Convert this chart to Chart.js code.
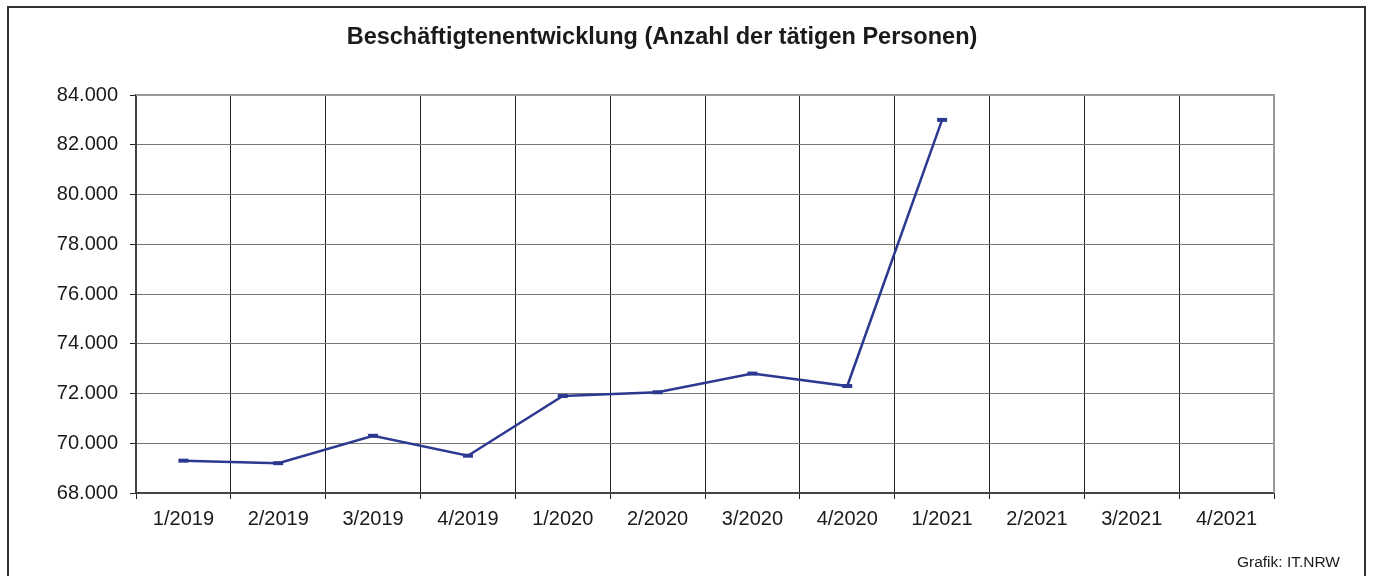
<!DOCTYPE html>
<html><head><meta charset="utf-8">
<script src="https://cdn.jsdelivr.net/npm/chart.js@4"></script>
<style>html,body{margin:0;padding:0;background:#fff}#wrap{width:1373px;height:576px;position:relative}</style>
</head><body><div id="wrap"><canvas id="c" width="1373" height="576"></canvas></div>
<script>
const categories = ['1/2019','2/2019','3/2019','4/2019','1/2020','2/2020','3/2020','4/2020','1/2021','2/2021','3/2021','4/2021'];
const beschaeftigte = [69300, 69200, 70300, 69500, 71900, 72050, 72800, 72300, 83000, null, null, null];
const yMin = 68000, yMax = 84000, yStep = 2000;
const titleText = 'Beschäftigtenentwicklung (Anzahl der tätigen Personen)';
const sourceText = 'Grafik: IT.NRW';

const frame = {
  id: 'frame',
  beforeDraw(chart) {
    const ctx = chart.ctx;
    ctx.save();
    ctx.fillStyle = '#fff';
    ctx.fillRect(0, 0, chart.width, chart.height);
    ctx.strokeStyle = '#333';
    ctx.lineWidth = 2;
    ctx.strokeRect(8, 7, 1357, 600);
    ctx.fillStyle = '#1a1a1a';
    ctx.font = 'bold 23.5px "Liberation Sans", Arial, sans-serif';
    ctx.textAlign = 'center';
    ctx.textBaseline = 'middle';
    ctx.fillText(titleText, 662, 38);
    ctx.font = '15.5px "Liberation Sans", Arial, sans-serif';
    ctx.textAlign = 'right';
    ctx.fillText(sourceText, 1340, 563);
    ctx.restore();
  },
  beforeDatasetsDraw(chart) {
    const a = chart.chartArea, ctx = chart.ctx;
    ctx.save();
    ctx.strokeStyle = '#999';
    ctx.lineWidth = 2;
    ctx.beginPath();
    ctx.moveTo(a.left, a.top);
    ctx.lineTo(a.right, a.top);
    ctx.lineTo(a.right, a.bottom);
    ctx.stroke();
    ctx.restore();
  }
};

new Chart(document.getElementById('c'), {
  type: 'line',
  data: {
    labels: categories,
    datasets: [{
      data: beschaeftigte,
      borderColor: '#2b3990',
      backgroundColor: '#2b3990',
      borderWidth: 2.5,
      pointStyle: 'line',
      pointRadius: 5,
      pointBorderWidth: 4,
      pointBorderColor: '#2b3990',
      tension: 0,
      spanGaps: false
    }]
  },
  options: {
    responsive: false,
    animation: false,
    devicePixelRatio: 1,
    layout: { padding: { left: 0, top: 95, right: 99, bottom: 0 } },
    plugins: { legend: { display: false }, tooltip: { enabled: false }, title: { display: false } },
    scales: {
      x: {
        offset: true,
        grid: { offset: true, color: '#222', lineWidth: 1, tickLength: 6, tickColor: '#222' },
        border: { color: '#444', width: 2 },
        ticks: { color: '#1a1a1a', padding: 8, maxRotation: 0, autoSkip: false,
          font: { family: '"Liberation Sans", Arial, sans-serif', size: 20 } },
        afterFit(s) { s.height = 83; }
      },
      y: {
        min: yMin, max: yMax,
        grid: { color: '#777', lineWidth: 1, borderDash: [1, 1], tickLength: 6, tickColor: '#222', tickBorderDash: [] },
        border: { color: '#444', width: 2 },
        ticks: { stepSize: yStep, color: '#1a1a1a', padding: 12,
          font: { family: '"Liberation Sans", Arial, sans-serif', size: 20 },
          callback: v => v.toLocaleString('de-DE') },
        afterFit(s) { s.width = 136; }
      }
    }
  },
  plugins: [frame]
});
</script></body></html>
